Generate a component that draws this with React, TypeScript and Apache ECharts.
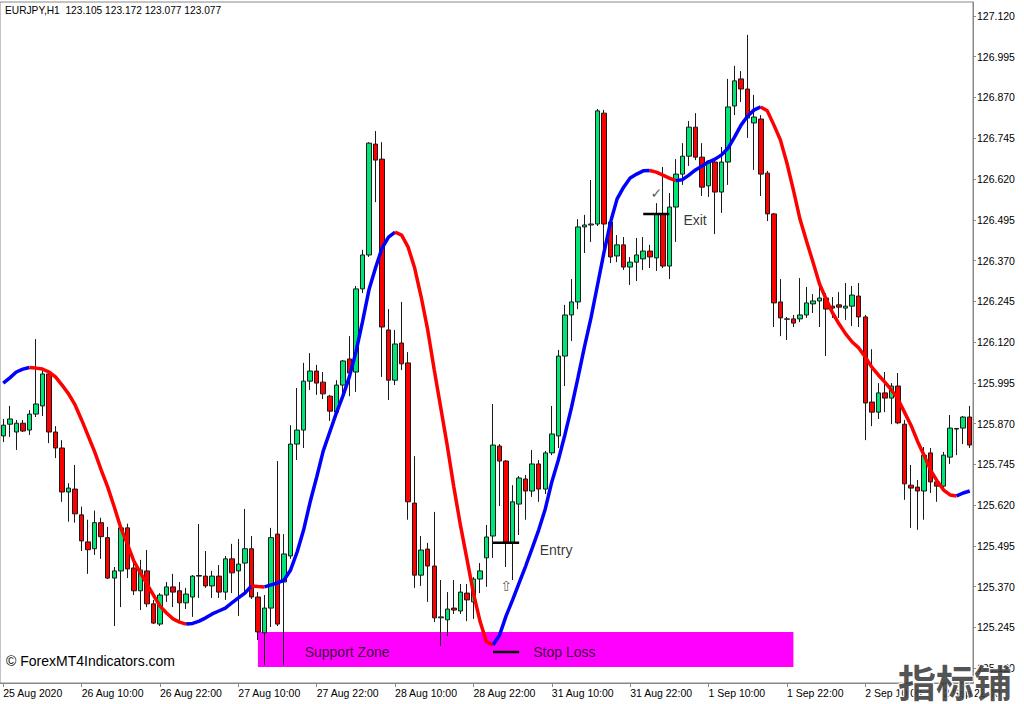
import React, { useEffect, useRef } from "react";
import * as echarts from "echarts";

// ---------- DATA ----------
const opens = [
  125.832, 125.868, 125.844, 125.871, 125.850, 125.899, 125.924, 126.022, 125.844, 125.795,
  125.660, 125.669, 125.590, 125.507, 125.486, 125.566, 125.520, 125.396, 125.418, 125.550,
  125.427, 125.357, 125.418, 125.317, 125.255, 125.344, 125.369, 125.357, 125.320, 125.338,
  125.402, 125.402, 125.372, 125.402, 125.353, 125.455, 125.418, 125.442, 125.486, 125.338,
  125.228, 125.304, 125.531, 125.384, 125.464, 125.807, 125.850, 126.000, 126.031, 125.997,
  125.954, 125.905, 125.988, 126.068, 126.028, 126.283, 126.387, 126.727, 126.681, 126.157,
  126.003, 126.117, 126.056, 125.626, 125.405, 125.485, 125.433, 125.274, 125.268, 125.304,
  125.295, 125.350, 125.323, 125.393, 125.458, 125.525, 125.801, 125.755, 125.504, 125.623,
  125.700, 125.663, 125.746, 125.669, 125.780, 125.832, 126.077, 126.203, 126.243, 126.473,
  126.479, 126.482, 126.822, 126.488, 126.384, 126.418, 126.350, 126.365, 126.375, 126.399,
  126.378, 126.513, 126.353, 126.534, 126.635, 126.690, 126.779, 126.687, 126.599, 126.672,
  126.580, 126.672, 126.844, 126.927, 126.896, 126.792, 126.804, 126.638, 126.513, 126.243,
  126.191, 126.191, 126.191, 126.203, 126.237, 126.246, 126.255, 126.230, 126.234, 126.224,
  126.230, 126.261, 126.197, 125.936, 125.905, 125.964, 125.948, 125.985, 125.868, 125.681,
  125.675, 125.663, 125.780, 125.691, 125.678, 125.767, 125.853, 125.856, 125.890,
];
const closes = [
  125.865, 125.884, 125.871, 125.847, 125.899, 125.930, 126.022, 125.844, 125.795, 125.660,
  125.672, 125.593, 125.510, 125.483, 125.566, 125.523, 125.396, 125.418, 125.550, 125.424,
  125.357, 125.421, 125.317, 125.258, 125.344, 125.369, 125.353, 125.320, 125.347, 125.402,
  125.404, 125.372, 125.402, 125.353, 125.455, 125.412, 125.439, 125.486, 125.338, 125.231,
  125.304, 125.520, 125.255, 125.470, 125.807, 125.850, 126.000, 126.031, 125.994, 125.961,
  125.908, 125.988, 126.062, 126.025, 126.283, 126.387, 126.730, 126.678, 126.166, 126.003,
  126.114, 126.053, 125.630, 125.405, 125.482, 125.433, 125.274, 125.277, 125.301, 125.298,
  125.353, 125.329, 125.393, 125.418, 125.522, 125.804, 125.755, 125.504, 125.630, 125.703,
  125.663, 125.746, 125.669, 125.780, 125.838, 126.077, 126.203, 126.243, 126.473, 126.479,
  126.482, 126.829, 126.482, 126.381, 126.418, 126.350, 126.365, 126.387, 126.399, 126.381,
  126.513, 126.353, 126.534, 126.635, 126.690, 126.779, 126.687, 126.595, 126.675, 126.580,
  126.672, 126.841, 126.921, 126.896, 126.807, 126.810, 126.635, 126.513, 126.240, 126.194,
  126.190, 126.178, 126.203, 126.240, 126.246, 126.255, 126.221, 126.224, 126.227, 126.230,
  126.264, 126.197, 125.933, 125.905, 125.964, 125.948, 125.985, 125.872, 125.685, 125.672,
  125.663, 125.773, 125.691, 125.678, 125.773, 125.856, 125.855, 125.890, 125.804,
];
const lows = [
  125.813, 125.829, 125.789, 125.844, 125.835, 125.890, 125.893, 125.810, 125.764, 125.630,
  125.569, 125.566, 125.479, 125.409, 125.467, 125.455, 125.393, 125.249, 125.307, 125.396,
  125.344, 125.298, 125.307, 125.255, 125.249, 125.323, 125.307, 125.258, 125.301, 125.277,
  125.335, 125.366, 125.335, 125.335, 125.329, 125.350, 125.280, 125.353, 125.332, 125.206,
  125.130, 125.246, 125.249, 125.130, 125.455, 125.758, 125.795, 125.973, 125.958, 125.945,
  125.878, 125.899, 125.954, 125.954, 125.967, 126.270, 126.381, 126.549, 126.013, 125.942,
  125.988, 126.034, 125.575, 125.366, 125.372, 125.323, 125.261, 125.188, 125.218, 125.286,
  125.286, 125.264, 125.271, 125.350, 125.369, 125.458, 125.617, 125.430, 125.390, 125.528,
  125.575, 125.645, 125.630, 125.654, 125.773, 125.795, 125.985, 126.123, 126.221, 126.393,
  126.427, 126.476, 126.365, 126.362, 126.365, 126.341, 126.295, 126.307, 126.341, 126.347,
  126.338, 126.347, 126.313, 126.427, 126.602, 126.660, 126.678, 126.568, 126.565, 126.451,
  126.516, 126.602, 126.816, 126.856, 126.746, 126.648, 126.568, 126.491, 126.166, 126.138,
  126.126, 126.166, 126.181, 126.194, 126.209, 126.166, 126.077, 126.194, 126.194, 126.188,
  126.169, 126.166, 125.819, 125.862, 125.884, 125.905, 125.868, 125.868, 125.636, 125.550,
  125.544, 125.575, 125.657, 125.630, 125.666, 125.746, 125.773, 125.807, 125.795,
];
const highs = [
  125.884, 125.924, 125.881, 125.881, 125.911, 126.129, 126.034, 126.028, 125.862, 125.819,
  125.687, 125.743, 125.615, 125.575, 125.603, 125.581, 125.553, 125.430, 125.563, 125.563,
  125.452, 125.452, 125.482, 125.329, 125.350, 125.384, 125.409, 125.384, 125.366, 125.405,
  125.562, 125.479, 125.418, 125.436, 125.464, 125.501, 125.516, 125.608, 125.525, 125.353,
  125.344, 125.550, 125.755, 125.531, 125.865, 125.979, 126.056, 126.086, 126.050, 126.028,
  125.958, 126.003, 126.065, 126.138, 126.292, 126.403, 126.733, 126.767, 126.733, 126.221,
  126.157, 126.243, 126.089, 125.770, 125.525, 125.504, 125.599, 125.390, 125.353, 125.390,
  125.378, 125.378, 125.399, 125.442, 125.559, 125.930, 125.807, 125.758, 125.681, 125.709,
  125.712, 125.789, 125.758, 125.786, 125.924, 126.096, 126.234, 126.313, 126.497, 126.510,
  126.617, 126.835, 126.832, 126.503, 126.448, 126.442, 126.381, 126.439, 126.442, 126.418,
  126.546, 126.657, 126.577, 126.681, 126.730, 126.798, 126.822, 126.730, 126.678, 126.678,
  126.718, 126.927, 126.967, 126.951, 127.062, 126.878, 126.816, 126.645, 126.516, 126.313,
  126.197, 126.203, 126.316, 126.289, 126.267, 126.301, 126.270, 126.258, 126.273, 126.301,
  126.292, 126.301, 126.203, 126.098, 125.994, 126.028, 125.994, 126.025, 125.881, 125.743,
  125.697, 125.798, 125.795, 125.697, 125.783, 125.896, 125.856, 125.893, 125.924,
];
const trendLine = [
  125.994, 126.010, 126.028, 126.037, 126.042, 126.040, 126.037, 126.028, 126.013, 125.988,
  125.961, 125.927, 125.881, 125.832, 125.783, 125.727, 125.675, 125.614, 125.550, 125.501,
  125.448, 125.412, 125.378, 125.344, 125.310, 125.289, 125.271, 125.261, 125.255, 125.257,
  125.264, 125.274, 125.286, 125.295, 125.304, 125.320, 125.335, 125.350, 125.372, 125.370,
  125.369, 125.375, 125.381, 125.390, 125.421, 125.476, 125.544, 125.630, 125.706, 125.786,
  125.844, 125.902, 125.954, 126.013, 126.089, 126.181, 126.280, 126.347, 126.408, 126.442,
  126.457, 126.448, 126.411, 126.347, 126.258, 126.157, 126.034, 125.918, 125.801, 125.675,
  125.559, 125.455, 125.350, 125.264, 125.200, 125.191, 125.221, 125.280, 125.329, 125.381,
  125.433, 125.488, 125.544, 125.608, 125.691, 125.758, 125.835, 125.918, 126.010, 126.105,
  126.194, 126.295, 126.396, 126.488, 126.559, 126.595, 126.623, 126.635, 126.645, 126.646,
  126.641, 126.632, 126.623, 126.615, 126.618, 126.632, 126.648, 126.660, 126.672, 126.681,
  126.694, 126.715, 126.749, 126.786, 126.813, 126.832, 126.841, 126.829, 126.786, 126.740,
  126.669, 126.586, 126.497, 126.430, 126.365, 126.298, 126.252, 126.209, 126.175, 126.145,
  126.120, 126.102, 126.074, 126.043, 126.019, 125.997, 125.973, 125.945, 125.905, 125.865,
  125.816, 125.773, 125.727, 125.694, 125.666, 125.651, 125.648, 125.657, 125.663,
];
const priceTicks = [
  125.12, 125.245, 125.37, 125.495, 125.62, 125.745, 125.87, 125.995,
  126.12, 126.245, 126.37, 126.495, 126.62, 126.745, 126.87, 126.995, 127.12,
];
const priceMin = 125.0742;
const priceMax = 127.1629;
const firstBarTime = Date.UTC(2020, 7, 25, 22);
const labelEvery = 12;
const headerText = "EURJPY,H1  123.105 123.172 123.077 123.077";
const copyrightText = "\u00a9 ForexMT4Indicators.com";
const watermarkText = "指标铺";

// support zone (bar range and price range)
const zoneBars = [39, 121];
const zonePrices = [125.231, 125.123];
// trade levels: [fromBar, toBar, price]
const entryLevel = [75, 79, 125.504];
const stopLevel = [75, 79, 125.169];
const exitLevel = [98, 102, 126.513];
// annotation texts
const noteTexts = ["Support Zone", "Stop Loss", "Entry", "Exit"];
const noteBars = [46, 81, 82, 104];
const notePrices = [125.169, 125.169, 125.482, 126.494];
// small glyph markers
const glyphTexts = ["\u2713", "\u21e7"];
const glyphBars = [100, 77];
const glyphPrices = [126.577, 125.372];

const MONTHS = ["Jan", "Feb", "Mar", "Apr", "May", "Jun", "Jul", "Aug", "Sep", "Oct", "Nov", "Dec"];

function buildCategories(n: number): string[] {
  const out: string[] = [];
  let t = firstBarTime;
  while (out.length < n) {
    const d = new Date(t);
    const dow = d.getUTCDay();
    if (dow !== 0 && dow !== 6) {
      const day = d.getUTCDate();
      const mon = MONTHS[d.getUTCMonth()];
      if (out.length === 0) {
        out.push(`${day} ${mon} ${d.getUTCFullYear()}`);
      } else {
        const hh = String(d.getUTCHours()).padStart(2, "0");
        out.push(`${day} ${mon} ${hh}:00`);
      }
    }
    t += 3600000;
  }
  return out;
}

function levelSeries(level: number[], n: number) {
  return {
    type: "line",
    data: Array.from({ length: n }, (_, i) => (i >= level[0] && i <= level[1] ? level[2] : null)),
    showSymbol: false,
    silent: true,
    lineStyle: { color: "#000", width: 2.5 },
    z: 6,
  };
}

function buildOption() {
  const n = opens.length;
  const categories = buildCategories(n);
  const candles = opens.map((o, i) => [o, closes[i], lows[i], highs[i]]);

  // trend segments coloured by slope
  const runs: { c: string; start: number; end: number }[] = [];
  let cur: any = null;
  for (let i = 1; i < trendLine.length; i++) {
    const c = trendLine[i] < trendLine[i - 1] ? "#FF0000" : "#0000FF";
    if (!cur || cur.c !== c) {
      cur = { c, start: i - 1, end: i };
      runs.push(cur);
    } else cur.end = i;
  }
  const trendSeries = runs.map((r) => ({
    type: "line",
    data: trendLine.map((v, i) => (i >= r.start && i <= r.end ? v : null)),
    showSymbol: false,
    silent: true,
    lineStyle: { color: r.c, width: 3.5 },
    z: 5,
  }));

  const labelInterval = (index: number) => index % labelEvery === 0;
  const font = "Liberation Sans, Arial, sans-serif";

  return {
    animation: false,
    backgroundColor: "#ffffff",
    grid: {
      left: 0,
      right: 51,
      top: 2,
      bottom: 21,
      show: true,
      borderColor: "#888",
      borderWidth: 1,
      containLabel: false,
      outerBoundsMode: "none",
    },
    xAxis: {
      type: "category",
      data: categories,
      boundaryGap: true,
      axisLine: { show: true, lineStyle: { color: "#888", width: 1 } },
      axisTick: { show: true, alignWithLabel: true, interval: labelInterval, length: 4, lineStyle: { color: "#888" } },
      axisLabel: {
        interval: labelInterval,
        align: "left",
        margin: 4,
        fontSize: 10.5,
        fontFamily: font,
        color: "#000",
      },
      splitLine: { show: false },
    },
    yAxis: {
      type: "value",
      position: "right",
      min: priceMin,
      max: priceMax,
      scale: true,
      axisLine: { show: true, lineStyle: { color: "#888", width: 1 } },
      axisTick: { show: true, length: 3, customValues: priceTicks, lineStyle: { color: "#888" } },
      axisLabel: {
        customValues: priceTicks,
        formatter: (v: number) => v.toFixed(3),
        margin: 4,
        fontSize: 10.5,
        fontFamily: font,
        color: "#000",
      },
      splitLine: { show: false },
    },
    series: [
      {
        type: "candlestick",
        data: candles,
        barWidth: 5,
        silent: true,
        z: 2,
        itemStyle: {
          color: "#00E676",
          color0: "#FF0000",
          borderColor: "#1a1a1a",
          borderColor0: "#1a1a1a",
          borderWidth: 1,
        },
        markArea: {
          silent: true,
          itemStyle: { color: "#FF00FF", opacity: 1 },
          data: [
            [
              { xAxis: zoneBars[0], yAxis: zonePrices[0] },
              { xAxis: zoneBars[1], yAxis: zonePrices[1] },
            ],
          ],
        },
      },
      ...trendSeries,
      levelSeries(entryLevel, n),
      levelSeries(stopLevel, n),
      levelSeries(exitLevel, n),
      {
        type: "scatter",
        silent: true,
        symbolSize: 0,
        z: 10,
        data: noteTexts.map((t, i) => ({ name: t, value: [noteBars[i], notePrices[i]] })),
        label: {
          show: true,
          position: "right",
          distance: 1,
          formatter: "{b}",
          fontSize: 14,
          fontFamily: font,
          color: "#000",
        },
      },
      {
        type: "scatter",
        silent: true,
        symbolSize: 0,
        z: 10,
        data: glyphTexts.map((t, i) => ({ name: t, value: [glyphBars[i], glyphPrices[i]] })),
        label: {
          show: true,
          position: "inside",
          formatter: "{b}",
          fontSize: 14,
          fontFamily: "DejaVu Sans",
          color: "#333",
        },
      },
    ],
    graphic: [
      {
        type: "text",
        x: 5,
        y: 10,
        style: {
          text: headerText,
          fontSize: 10.2,
          fontFamily: font,
          fill: "#000",
          verticalAlign: "middle",
        },
        z: 20,
      },
      {
        type: "text",
        x: 6,
        y: 661,
        style: {
          text: copyrightText,
          fontSize: 14,
          fontFamily: font,
          fill: "#000",
          verticalAlign: "middle",
        },
        z: 20,
      },
      {
        type: "text",
        x: 1012,
        y: 680,
        style: {
          text: watermarkText,
          fontSize: 38,
          fontWeight: "bold",
          fontFamily: "Noto Sans CJK SC",
          fill: "rgba(60,60,60,0.88)",
          stroke: "#ffffff",
          lineWidth: 2,
          align: "right",
          verticalAlign: "middle",
        },
        z: 30,
      },
    ],
  };
}

export default function App() {
  const ref = useRef<HTMLDivElement>(null);
  useEffect(() => {
    if (!ref.current) return;
    const chart = echarts.init(ref.current, null, { renderer: "svg" });
    chart.setOption(buildOption() as any);
    return () => chart.dispose();
  }, []);
  return (
    <div
      ref={ref}
      style={{ position: "fixed", left: 0, top: 0, width: 1024, height: 704, background: "#fff" }}
    />
  );
}
